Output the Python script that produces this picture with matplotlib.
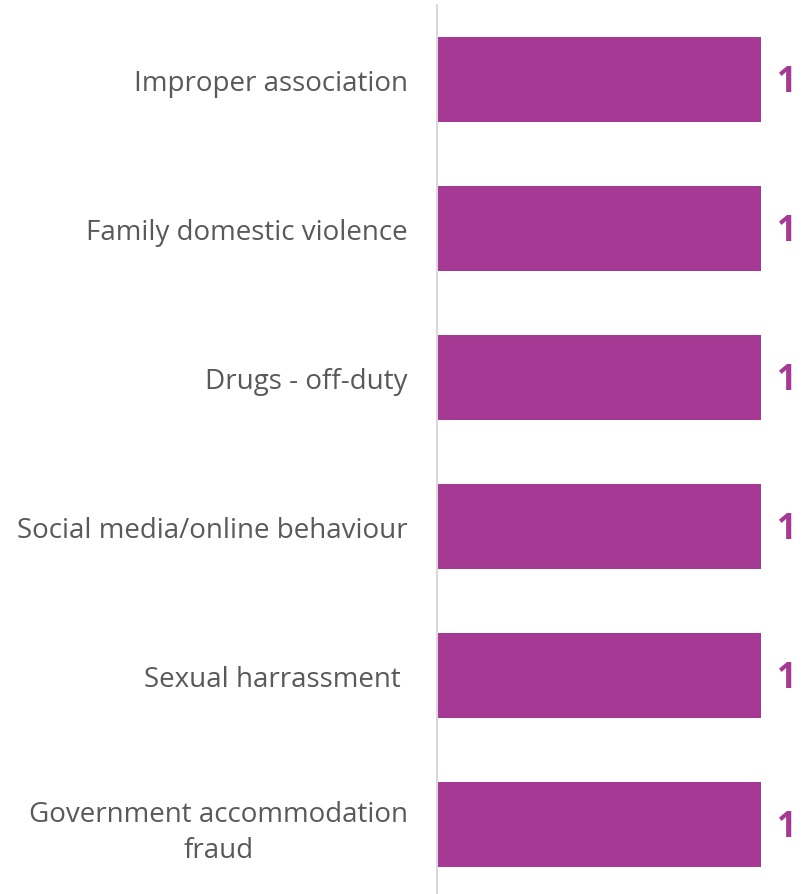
import matplotlib.pyplot as plt

# categories from top to bottom
categories = ['Improper association', 'Family domestic violence', 'Drugs - off-duty',
              'Social media/online behaviour', 'Sexual harrassment ',
              'Government accommodation\nfraud']
values = [1, 1, 1, 1, 1, 1]

bar_color = '#A53993'
text_color = '#595959'

plt.rcParams['font.family'] = ['Open Sans', 'DejaVu Sans']

fig = plt.figure(figsize=(8.03, 8.95), dpi=100)
W, H = 803, 895
ax = fig.add_axes([437 / W, 1 - 900 / H, (803 - 437) / W, 894 / H])

pos = list(range(len(categories)))
ax.barh(pos, values, height=0.57, color=bar_color)
ax.set_ylim(len(categories) - 0.5, -0.5)
ax.set_xlim(0, 1.13)

for p, v in zip(pos, values):
    ax.text(v + 0.05, p + 0.02, str(v), va='center', ha='left', color=bar_color,
            fontsize=25, fontweight='bold')

ax.set_yticks(pos)
ax.set_yticklabels(categories, fontsize=20, color=text_color,
                   multialignment='center', linespacing=1.4)
ax.tick_params(axis='y', length=0, pad=21)
ax.set_xticks([])

for s in ['top', 'right', 'bottom']:
    ax.spines[s].set_visible(False)
ax.spines['left'].set_color('#D9D9D9')
ax.spines['left'].set_linewidth(1.5)

fig.savefig('out.png', dpi=100)
